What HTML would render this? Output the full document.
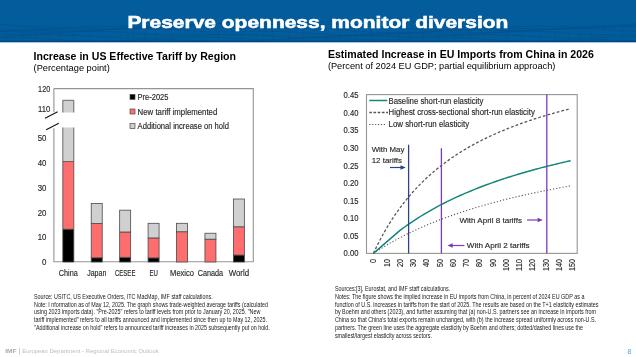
<!DOCTYPE html>
<html><head><meta charset="utf-8">
<style>
html,body{margin:0;padding:0;background:#fff;width:636px;height:357px;overflow:hidden}
svg{display:block;will-change:transform}
text{font-family:"Liberation Sans", sans-serif}
.l{stroke:#333;stroke-width:0.15px}
</style></head><body>
<svg width="636" height="357" viewBox="0 0 636 357">

<rect x="0" y="0" width="636" height="42" fill="#035d9c"/>
<g fill="none" stroke="#024b85" stroke-width="0.6" opacity="0.75">
<path d="M-4,23.6 L2,24.2 L8,24.8 L14,25.4 L20,25.9 L26,26.4 L32,26.7 L38,27.0 L44,27.2 L50,27.3 L56,27.3 L62,27.2 L68,27.1 L74,27.0 L80,26.8 L86,26.6 L92,26.5 L98,26.4 L104,26.3 L110,26.3 L116,26.4 L122,26.5 L128,26.6 L134,26.8 L140,26.9 L146,27.1 L152,27.3 L158,27.4 L164,27.4 L170,27.4 L176,27.2 L182,27.0 L188,26.7 L194,26.3 L200,25.8 L206,25.2 L212,24.6 L218,24.0 L224,23.4 L230,22.8 L236,22.3 L242,21.8 L248,21.5 L254,21.2 L260,21.0 L266,20.8 L272,20.8 L278,20.9 L284,21.0 L290,21.1 L296,21.3 L302,21.4 L308,21.6 L314,21.7 L320,21.7 L326,21.7 L332,21.6 L338,21.5 L344,21.4 L350,21.2 L356,21.0 L362,20.8 L368,20.7 L374,20.5 L380,20.5 L386,20.5 L392,20.6 L398,20.8 L404,21.1 L410,21.5 L416,22.0 L422,22.5 L428,23.1 L434,23.7 L440,24.3 L446,24.9 L452,25.5 L458,25.9 L464,26.3 L470,26.7 L476,26.9 L482,27.0 L488,27.1 L494,27.0 L500,27.0 L506,26.8 L512,26.7 L518,26.5 L524,26.4 L530,26.3 L536,26.3 L542,26.3 L548,26.3 L554,26.5 L560,26.6 L566,26.8 L572,27.0 L578,27.2 L584,27.4 L590,27.5 L596,27.6 L602,27.6 L608,27.5 L614,27.3 L620,27.0 L626,26.7 L632,26.2 L638,25.7 L644,25.1"/>
<path d="M-4,30.1 L2,30.3 L8,30.3 L14,30.3 L20,30.1 L26,29.9 L32,29.7 L38,29.4 L44,29.2 L50,28.9 L56,28.7 L62,28.5 L68,28.4 L74,28.3 L80,28.3 L86,28.3 L92,28.4 L98,28.5 L104,28.7 L110,28.8 L116,28.8 L122,28.9 L128,28.8 L134,28.7 L140,28.5 L146,28.3 L152,27.9 L158,27.5 L164,27.0 L170,26.4 L176,25.9 L182,25.3 L188,24.7 L194,24.3 L200,23.8 L206,23.5 L212,23.2 L218,23.0 L224,23.0 L230,23.0 L236,23.1 L242,23.3 L248,23.5 L254,23.8 L260,24.0 L266,24.3 L272,24.5 L278,24.7 L284,24.8 L290,24.9 L296,24.9 L302,24.8 L308,24.7 L314,24.6 L320,24.5 L326,24.3 L332,24.3 L338,24.2 L344,24.2 L350,24.3 L356,24.5 L362,24.8 L368,25.1 L374,25.5 L380,26.0 L386,26.6 L392,27.1 L398,27.7 L404,28.3 L410,28.8 L416,29.2 L422,29.6 L428,29.9 L434,30.0 L440,30.1 L446,30.1 L452,30.0 L458,29.9 L464,29.7 L470,29.4 L476,29.2 L482,29.0 L488,28.7 L494,28.6 L500,28.5 L506,28.4 L512,28.4 L518,28.4 L524,28.5 L530,28.7 L536,28.8 L542,28.9 L548,29.0 L554,29.1 L560,29.1 L566,29.0 L572,28.9 L578,28.6 L584,28.3 L590,27.9 L596,27.4 L602,26.8 L608,26.3 L614,25.7 L620,25.1 L626,24.6 L632,24.2 L638,23.8 L644,23.5"/>
<path d="M-4,31.8 L2,31.4 L8,31.1 L14,30.7 L20,30.5 L26,30.2 L32,30.1 L38,30.0 L44,30.0 L50,30.0 L56,30.1 L62,30.2 L68,30.3 L74,30.4 L80,30.4 L86,30.4 L92,30.4 L98,30.2 L104,30.0 L110,29.7 L116,29.4 L122,28.9 L128,28.5 L134,28.0 L140,27.5 L146,27.0 L152,26.5 L158,26.2 L164,25.9 L170,25.6 L176,25.5 L182,25.5 L188,25.6 L194,25.7 L200,26.0 L206,26.3 L212,26.6 L218,26.9 L224,27.3 L230,27.6 L236,27.8 L242,28.1 L248,28.2 L254,28.3 L260,28.3 L266,28.3 L272,28.2 L278,28.1 L284,28.0 L290,27.9 L296,27.9 L302,27.9 L308,27.9 L314,28.0 L320,28.2 L326,28.5 L332,28.9 L338,29.3 L344,29.8 L350,30.3 L356,30.8 L362,31.3 L368,31.7 L374,32.1 L380,32.4 L386,32.7 L392,32.8 L398,32.9 L404,32.8 L410,32.7 L416,32.5 L422,32.2 L428,31.9 L434,31.5 L440,31.2 L446,30.9 L452,30.6 L458,30.4 L464,30.3 L470,30.2 L476,30.1 L482,30.2 L488,30.2 L494,30.3 L500,30.5 L506,30.6 L512,30.6 L518,30.7 L524,30.6 L530,30.5 L536,30.3 L542,30.0 L548,29.7 L554,29.3 L560,28.8 L566,28.3 L572,27.8 L578,27.3 L584,26.8 L590,26.4 L596,26.1 L602,25.8 L608,25.6 L614,25.6 L620,25.6 L626,25.7 L632,25.9 L638,26.2 L644,26.5"/>
<path d="M-4,31.7 L2,31.7 L8,31.6 L14,31.7 L20,31.8 L26,31.9 L32,32.0 L38,32.1 L44,32.2 L50,32.2 L56,32.1 L62,32.0 L68,31.8 L74,31.5 L80,31.2 L86,30.8 L92,30.4 L98,30.0 L104,29.6 L110,29.2 L116,28.9 L122,28.6 L128,28.4 L134,28.3 L140,28.3 L146,28.4 L152,28.6 L158,28.9 L164,29.2 L170,29.6 L176,30.0 L182,30.4 L188,30.8 L194,31.1 L200,31.4 L206,31.6 L212,31.8 L218,31.8 L224,31.9 L230,31.8 L236,31.7 L242,31.6 L248,31.5 L254,31.4 L260,31.3 L266,31.3 L272,31.4 L278,31.5 L284,31.7 L290,31.9 L296,32.3 L302,32.6 L308,33.1 L314,33.5 L320,33.9 L326,34.3 L332,34.7 L338,35.0 L344,35.2 L350,35.3 L356,35.3 L362,35.2 L368,35.0 L374,34.8 L380,34.4 L386,34.1 L392,33.7 L398,33.3 L404,32.9 L410,32.6 L416,32.3 L422,32.1 L428,31.9 L434,31.9 L440,31.8 L446,31.9 L452,32.0 L458,32.1 L464,32.2 L470,32.3 L476,32.4 L482,32.4 L488,32.4 L494,32.2 L500,32.1 L506,31.8 L512,31.5 L518,31.1 L524,30.7 L530,30.2 L536,29.8 L542,29.4 L548,29.0 L554,28.7 L560,28.5 L566,28.4 L572,28.3 L578,28.4 L584,28.5 L590,28.8 L596,29.1 L602,29.4 L608,29.8 L614,30.2 L620,30.6 L626,30.9 L632,31.2 L638,31.4 L644,31.6"/>
<path d="M-4,34.1 L2,34.2 L8,34.3 L14,34.3 L20,34.3 L26,34.2 L32,34.0 L38,33.8 L44,33.5 L50,33.2 L56,32.8 L62,32.5 L68,32.1 L74,31.8 L80,31.6 L86,31.4 L92,31.4 L98,31.4 L104,31.5 L110,31.7 L116,32.0 L122,32.3 L128,32.7 L134,33.2 L140,33.6 L146,34.0 L152,34.4 L158,34.7 L164,34.9 L170,35.1 L176,35.2 L182,35.2 L188,35.2 L194,35.1 L200,35.0 L206,34.8 L212,34.7 L218,34.5 L224,34.5 L230,34.4 L236,34.4 L242,34.5 L248,34.7 L254,34.9 L260,35.2 L266,35.5 L272,35.9 L278,36.3 L284,36.6 L290,36.9 L296,37.2 L302,37.4 L308,37.4 L314,37.4 L320,37.4 L326,37.2 L332,36.9 L338,36.6 L344,36.2 L350,35.8 L356,35.3 L362,34.9 L368,34.6 L374,34.2 L380,34.0 L386,33.8 L392,33.7 L398,33.6 L404,33.7 L410,33.8 L416,33.9 L422,34.0 L428,34.2 L434,34.3 L440,34.4 L446,34.5 L452,34.4 L458,34.3 L464,34.2 L470,34.0 L476,33.7 L482,33.3 L488,33.0 L494,32.6 L500,32.2 L506,31.9 L512,31.7 L518,31.5 L524,31.3 L530,31.3 L536,31.4 L542,31.6 L548,31.8 L554,32.1 L560,32.5 L566,32.9 L572,33.3 L578,33.8 L584,34.1 L590,34.5 L596,34.7 L602,34.9 L608,35.0 L614,35.1 L620,35.1 L626,35.0 L632,34.8 L638,34.7 L644,34.6"/>
<path d="M-4,36.6 L2,36.4 L8,36.2 L14,35.9 L20,35.6 L26,35.3 L32,35.0 L38,34.8 L44,34.6 L50,34.5 L56,34.6 L62,34.7 L68,34.8 L74,35.1 L80,35.4 L86,35.8 L92,36.2 L98,36.7 L104,37.1 L110,37.5 L116,37.8 L122,38.1 L128,38.3 L134,38.4 L140,38.4 L146,38.4 L152,38.2 L158,38.1 L164,37.9 L170,37.7 L176,37.5 L182,37.3 L188,37.2 L194,37.1 L200,37.1 L206,37.2 L212,37.3 L218,37.5 L224,37.8 L230,38.1 L236,38.4 L242,38.7 L248,39.0 L254,39.2 L260,39.4 L266,39.5 L272,39.5 L278,39.4 L284,39.2 L290,39.0 L296,38.7 L302,38.3 L308,37.9 L314,37.4 L320,37.0 L326,36.6 L332,36.3 L338,36.0 L344,35.8 L350,35.7 L356,35.7 L362,35.7 L368,35.8 L374,36.0 L380,36.1 L386,36.3 L392,36.5 L398,36.7 L404,36.8 L410,36.9 L416,36.9 L422,36.8 L428,36.7 L434,36.5 L440,36.3 L446,36.0 L452,35.6 L458,35.3 L464,35.0 L470,34.8 L476,34.6 L482,34.5 L488,34.5 L494,34.5 L500,34.7 L506,34.9 L512,35.2 L518,35.6 L524,36.0 L530,36.4 L536,36.9 L542,37.2 L548,37.6 L554,37.9 L560,38.1 L566,38.2 L572,38.3 L578,38.2 L584,38.2 L590,38.0 L596,37.8 L602,37.6 L608,37.4 L614,37.3 L620,37.1 L626,37.1 L632,37.0 L638,37.1 L644,37.2"/>
<path d="M-4,38.0 L2,37.9 L8,37.8 L14,37.7 L20,37.8 L26,37.9 L32,38.2 L38,38.4 L44,38.8 L50,39.2 L56,39.6 L62,40.0 L68,40.4 L74,40.7 L80,41.0 L86,41.1 L92,41.3 L98,41.3 L104,41.2 L110,41.1 L116,40.9 L122,40.7 L128,40.4 L134,40.2 L140,39.9 L146,39.7 L152,39.6 L158,39.5 L164,39.5 L170,39.6 L176,39.7 L182,39.9 L188,40.1 L194,40.4 L200,40.7 L206,40.9 L212,41.2 L218,41.4 L224,41.5 L230,41.5 L236,41.5 L242,41.3 L248,41.1 L254,40.8 L260,40.5 L266,40.1 L272,39.7 L278,39.3 L284,38.9 L290,38.6 L296,38.3 L302,38.1 L308,38.0 L314,38.0 L320,38.0 L326,38.1 L332,38.3 L338,38.5 L344,38.8 L350,39.0 L356,39.3 L362,39.5 L368,39.6 L374,39.7 L380,39.7 L386,39.7 L392,39.5 L398,39.3 L404,39.1 L410,38.8 L416,38.6 L422,38.3 L428,38.0 L434,37.8 L440,37.7 L446,37.7 L452,37.7 L458,37.8 L464,38.0 L470,38.3 L476,38.6 L482,39.0 L488,39.4 L494,39.8 L500,40.2 L506,40.5 L512,40.8 L518,41.0 L524,41.1 L530,41.2 L536,41.2 L542,41.1 L548,40.9 L554,40.7 L560,40.4 L566,40.2 L572,39.9 L578,39.7 L584,39.6 L590,39.5 L596,39.5 L602,39.5 L608,39.6 L614,39.8 L620,40.1 L626,40.3 L632,40.6 L638,40.9 L644,41.2"/>
<path d="M5.0 30.2 Q8.0 36.1 6.0 41" opacity="0.6"/>
<path d="M21.5 31.1 Q24.5 36.5 22.5 41" opacity="0.6"/>
<path d="M35.7 31.7 Q38.7 36.8 36.7 41" opacity="0.6"/>
<path d="M47.4 32.1 Q50.4 37.1 48.4 41" opacity="0.6"/>
<path d="M58.7 32.5 Q61.7 37.2 59.7 41" opacity="0.6"/>
<path d="M72.1 32.8 Q75.1 37.4 73.1 41" opacity="0.6"/>
<path d="M88.2 33.0 Q91.2 37.5 89.2 41" opacity="0.6"/>
<path d="M105.0 33.0 Q108.0 37.5 106.0 41" opacity="0.6"/>
<path d="M120.0 32.7 Q123.0 37.4 121.0 41" opacity="0.6"/>
<path d="M132.2 32.4 Q135.2 37.2 133.2 41" opacity="0.6"/>
<path d="M143.4 32.0 Q146.4 37.0 144.4 41" opacity="0.6"/>
<path d="M156.0 31.5 Q159.0 36.8 157.0 41" opacity="0.6"/>
<path d="M171.4 30.8 Q174.4 36.4 172.4 41" opacity="0.6"/>
<path d="M188.3 30.0 Q191.3 36.0 189.3 41" opacity="0.6"/>
<path d="M204.0 29.2 Q207.0 35.6 205.0 41" opacity="0.6"/>
<path d="M217.0 28.6 Q220.0 35.3 218.0 41" opacity="0.6"/>
<path d="M228.1 28.2 Q231.1 35.1 229.1 41" opacity="0.6"/>
<path d="M240.1 27.7 Q243.1 34.9 241.1 41" opacity="0.6"/>
<path d="M254.7 27.3 Q257.7 34.7 255.7 41" opacity="0.6"/>
<path d="M271.4 27.1 Q274.4 34.5 272.4 41" opacity="0.6"/>
<path d="M287.7 27.0 Q290.7 34.5 288.7 41" opacity="0.6"/>
<path d="M301.5 27.1 Q304.5 34.6 302.5 41" opacity="0.6"/>
<path d="M313.0 27.4 Q316.0 34.7 314.0 41" opacity="0.6"/>
<path d="M324.5 27.7 Q327.5 34.8 325.5 41" opacity="0.6"/>
<path d="M338.3 28.2 Q341.3 35.1 339.3 41" opacity="0.6"/>
<path d="M354.6 28.9 Q357.6 35.5 355.6 41" opacity="0.6"/>
<path d="M371.3 29.7 Q374.3 35.9 372.3 41" opacity="0.6"/>
<path d="M385.9 30.4 Q388.9 36.2 386.9 41" opacity="0.6"/>
<path d="M397.8 31.0 Q400.8 36.5 398.8 41" opacity="0.6"/>
<path d="M409.0 31.5 Q412.0 36.8 410.0 41" opacity="0.6"/>
<path d="M422.0 32.0 Q425.0 37.0 423.0 41" opacity="0.6"/>
<path d="M437.8 32.5 Q440.8 37.3 438.8 41" opacity="0.6"/>
<path d="M454.7 32.9 Q457.7 37.4 455.7 41" opacity="0.6"/>
<path d="M470.0 33.0 Q473.0 37.5 471.0 41" opacity="0.6"/>
<path d="M482.6 32.9 Q485.6 37.5 483.6 41" opacity="0.6"/>
<path d="M493.7 32.8 Q496.7 37.4 494.7 41" opacity="0.6"/>
<path d="M506.0 32.5 Q509.0 37.3 507.0 41" opacity="0.6"/>
<path d="M521.1 32.0 Q524.1 37.0 522.1 41" opacity="0.6"/>
<path d="M537.9 31.3 Q540.9 36.7 538.9 41" opacity="0.6"/>
<path d="M553.9 30.6 Q556.9 36.3 554.9 41" opacity="0.6"/>
<path d="M567.2 29.9 Q570.2 36.0 568.2 41" opacity="0.6"/>
<path d="M578.5 29.4 Q581.5 35.7 579.5 41" opacity="0.6"/>
<path d="M590.3 28.8 Q593.3 35.4 591.3 41" opacity="0.6"/>
<path d="M604.5 28.2 Q607.5 35.1 605.5 41" opacity="0.6"/>
<path d="M621.1 27.6 Q624.1 34.8 622.1 41" opacity="0.6"/>
<path d="M637.6 27.2 Q640.6 34.6 638.6 41" opacity="0.6"/>
</g>
<rect x="0" y="40.6" width="636" height="1.4" fill="#034a84"/>
<rect x="0" y="42" width="636" height="1" fill="#9ec3e3"/>
<text x="127.4" y="28.1" font-size="17.4" font-weight="bold" fill="#fff" stroke="#fff" stroke-width="0.55" textLength="381"  lengthAdjust="spacingAndGlyphs">Preserve openness, monitor diversion</text>
<text x="33.6" y="60.2" font-size="10.2" font-weight="bold" fill="#000" textLength="202.4" lengthAdjust="spacingAndGlyphs">Increase in US Effective Tariff by Region</text>
<text x="33.6" y="70.9" font-size="9.1" fill="#000" textLength="76.2" lengthAdjust="spacingAndGlyphs">(Percentage point)</text>
<path d="M53.9 88.6 H253.3 V261.8 H53.9 V128.2 M53.9 112.2 V88.6" fill="none" stroke="#959595" stroke-width="1.1"/>
<text x="42.0" y="265.1" font-size="8.5" fill="#222" class="l" textLength="4.4" lengthAdjust="spacingAndGlyphs">0</text>
<text x="37.7" y="240.2" font-size="8.5" fill="#222" class="l" textLength="8.7" lengthAdjust="spacingAndGlyphs">10</text>
<text x="37.7" y="215.5" font-size="8.5" fill="#222" class="l" textLength="8.7" lengthAdjust="spacingAndGlyphs">20</text>
<text x="37.7" y="190.7" font-size="8.5" fill="#222" class="l" textLength="8.7" lengthAdjust="spacingAndGlyphs">30</text>
<text x="37.7" y="165.9" font-size="8.5" fill="#222" class="l" textLength="8.7" lengthAdjust="spacingAndGlyphs">40</text>
<text x="37.7" y="141.1" font-size="8.5" fill="#222" class="l" textLength="8.7" lengthAdjust="spacingAndGlyphs">50</text>
<text x="38.1" y="111.6" font-size="8.5" fill="#222" class="l" textLength="12.1" lengthAdjust="spacingAndGlyphs">110</text>
<text x="38.1" y="91.5" font-size="8.5" fill="#222" class="l" textLength="12.1" lengthAdjust="spacingAndGlyphs">120</text>
<path d="M45 118.2 L57.7 111.8 M46.2 129.7 L58.8 123.3" stroke="#111" stroke-width="1.1"/>
<rect x="62.80" y="138.00" width="11.0" height="23.56" fill="#d0d0d0"/>
<rect x="62.80" y="161.56" width="11.0" height="67.70" fill="#ff6e6e"/>
<rect x="62.80" y="229.26" width="11.0" height="32.74" fill="#000000"/>
<rect x="62.80" y="127.5" width="11.0" height="11.00" fill="#d0d0d0"/>
<path d="M62.80 127.5 V262 H73.80 V127.5 M62.80 161.56 H73.80 M62.80 229.26 H73.80" stroke="#4a4a4a" stroke-width="0.8" fill="none"/>
<rect x="62.80" y="100.3" width="11.0" height="12.2" fill="#d0d0d0"/>
<path d="M62.80 112.5 V100.3 H73.80 V112.5" stroke="#4a4a4a" stroke-width="0.8" fill="none"/>
<text x="58.8" y="276" font-size="8.5" fill="#222" class="l" textLength="19" lengthAdjust="spacingAndGlyphs">China</text>
<rect x="91.23" y="257.78" width="11.0" height="4.22" fill="#000000" stroke="#4a4a4a" stroke-width="0.8"/>
<rect x="91.23" y="223.56" width="11.0" height="34.22" fill="#ff6e6e" stroke="#4a4a4a" stroke-width="0.8"/>
<rect x="91.23" y="203.47" width="11.0" height="20.09" fill="#d0d0d0" stroke="#4a4a4a" stroke-width="0.8"/>
<text x="87.2" y="276" font-size="8.5" fill="#222" class="l" textLength="19.1" lengthAdjust="spacingAndGlyphs">Japan</text>
<rect x="119.66" y="257.29" width="11.0" height="4.71" fill="#000000" stroke="#4a4a4a" stroke-width="0.8"/>
<rect x="119.66" y="231.99" width="11.0" height="25.30" fill="#ff6e6e" stroke="#4a4a4a" stroke-width="0.8"/>
<rect x="119.66" y="210.17" width="11.0" height="21.82" fill="#d0d0d0" stroke="#4a4a4a" stroke-width="0.8"/>
<text x="115.0" y="276" font-size="8.5" fill="#222" class="l" textLength="20.4" lengthAdjust="spacingAndGlyphs">CESEE</text>
<rect x="148.09" y="257.91" width="11.0" height="4.09" fill="#000000" stroke="#4a4a4a" stroke-width="0.8"/>
<rect x="148.09" y="237.94" width="11.0" height="19.96" fill="#ff6e6e" stroke="#4a4a4a" stroke-width="0.8"/>
<rect x="148.09" y="223.31" width="11.0" height="14.63" fill="#d0d0d0" stroke="#4a4a4a" stroke-width="0.8"/>
<text x="149.4" y="276" font-size="8.5" fill="#222" class="l" textLength="8.4" lengthAdjust="spacingAndGlyphs">EU</text>
<rect x="176.52" y="231.74" width="11.0" height="30.26" fill="#ff6e6e" stroke="#4a4a4a" stroke-width="0.8"/>
<rect x="176.52" y="223.31" width="11.0" height="8.43" fill="#d0d0d0" stroke="#4a4a4a" stroke-width="0.8"/>
<text x="170.1" y="276" font-size="8.5" fill="#222" class="l" textLength="23.9" lengthAdjust="spacingAndGlyphs">Mexico</text>
<rect x="204.95" y="239.18" width="11.0" height="22.82" fill="#ff6e6e" stroke="#4a4a4a" stroke-width="0.8"/>
<rect x="204.95" y="233.23" width="11.0" height="5.95" fill="#d0d0d0" stroke="#4a4a4a" stroke-width="0.8"/>
<text x="197.8" y="276" font-size="8.5" fill="#222" class="l" textLength="25.3" lengthAdjust="spacingAndGlyphs">Canada</text>
<rect x="233.38" y="255.06" width="11.0" height="6.94" fill="#000000" stroke="#4a4a4a" stroke-width="0.8"/>
<rect x="233.38" y="226.78" width="11.0" height="28.27" fill="#ff6e6e" stroke="#4a4a4a" stroke-width="0.8"/>
<rect x="233.38" y="199.01" width="11.0" height="27.78" fill="#d0d0d0" stroke="#4a4a4a" stroke-width="0.8"/>
<text x="228.7" y="276" font-size="8.5" fill="#222" class="l" textLength="20.4" lengthAdjust="spacingAndGlyphs">World</text>
<rect x="130" y="94.4" width="5" height="5" fill="#000000" stroke="#4a4a4a" stroke-width="0.7"/>
<text x="137.6" y="99.9" font-size="8.5" fill="#222" class="l" textLength="30.8" lengthAdjust="spacingAndGlyphs">Pre-2025</text>
<rect x="130" y="109.0" width="5" height="5" fill="#ff6e6e" stroke="#4a4a4a" stroke-width="0.7"/>
<text x="137.6" y="114.5" font-size="8.5" fill="#222" class="l" textLength="79.7" lengthAdjust="spacingAndGlyphs">New tariff implemented</text>
<rect x="130" y="123.6" width="5" height="5" fill="#d0d0d0" stroke="#4a4a4a" stroke-width="0.7"/>
<text x="137.6" y="129.1" font-size="8.5" fill="#222" class="l" textLength="91.4" lengthAdjust="spacingAndGlyphs">Additional increase on hold</text>
<text x="327.9" y="57.6" font-size="10.1" font-weight="bold" fill="#000" textLength="266" lengthAdjust="spacingAndGlyphs">Estimated Increase in EU Imports from China in 2026</text>
<text x="327.9" y="68.8" font-size="9.1" fill="#000" textLength="227.5" lengthAdjust="spacingAndGlyphs">(Percent of 2024 EU GDP; partial equilibrium approach)</text>
<rect x="366.5" y="94.6" width="210.7" height="158.8" fill="none" stroke="#959595" stroke-width="1.1"/>
<text x="343.6" y="256.4" font-size="8.5" fill="#222" class="l" textLength="14.9" lengthAdjust="spacingAndGlyphs">0.00</text>
<text x="343.6" y="238.9" font-size="8.5" fill="#222" class="l" textLength="14.9" lengthAdjust="spacingAndGlyphs">0.05</text>
<text x="343.6" y="221.2" font-size="8.5" fill="#222" class="l" textLength="14.9" lengthAdjust="spacingAndGlyphs">0.10</text>
<text x="343.6" y="203.7" font-size="8.5" fill="#222" class="l" textLength="14.9" lengthAdjust="spacingAndGlyphs">0.15</text>
<text x="343.6" y="186.1" font-size="8.5" fill="#222" class="l" textLength="14.9" lengthAdjust="spacingAndGlyphs">0.20</text>
<text x="343.6" y="168.5" font-size="8.5" fill="#222" class="l" textLength="14.9" lengthAdjust="spacingAndGlyphs">0.25</text>
<text x="343.6" y="150.8" font-size="8.5" fill="#222" class="l" textLength="14.9" lengthAdjust="spacingAndGlyphs">0.30</text>
<text x="343.6" y="133.2" font-size="8.5" fill="#222" class="l" textLength="14.9" lengthAdjust="spacingAndGlyphs">0.35</text>
<text x="343.6" y="115.6" font-size="8.5" fill="#222" class="l" textLength="14.9" lengthAdjust="spacingAndGlyphs">0.40</text>
<text x="343.6" y="98.0" font-size="8.5" fill="#222" class="l" textLength="14.9" lengthAdjust="spacingAndGlyphs">0.45</text>
<text transform="translate(376.4,263.0) rotate(-90)" font-size="8.5" fill="#222" class="l" textLength="4.1" lengthAdjust="spacingAndGlyphs">0</text>
<text transform="translate(389.7,267.0) rotate(-90)" font-size="8.5" fill="#222" class="l" textLength="8.1" lengthAdjust="spacingAndGlyphs">10</text>
<text transform="translate(402.9,267.0) rotate(-90)" font-size="8.5" fill="#222" class="l" textLength="8.1" lengthAdjust="spacingAndGlyphs">20</text>
<text transform="translate(416.2,267.0) rotate(-90)" font-size="8.5" fill="#222" class="l" textLength="8.1" lengthAdjust="spacingAndGlyphs">30</text>
<text transform="translate(429.4,267.0) rotate(-90)" font-size="8.5" fill="#222" class="l" textLength="8.1" lengthAdjust="spacingAndGlyphs">40</text>
<text transform="translate(442.7,267.0) rotate(-90)" font-size="8.5" fill="#222" class="l" textLength="8.1" lengthAdjust="spacingAndGlyphs">50</text>
<text transform="translate(455.9,267.0) rotate(-90)" font-size="8.5" fill="#222" class="l" textLength="8.1" lengthAdjust="spacingAndGlyphs">60</text>
<text transform="translate(469.2,267.0) rotate(-90)" font-size="8.5" fill="#222" class="l" textLength="8.1" lengthAdjust="spacingAndGlyphs">70</text>
<text transform="translate(482.4,267.0) rotate(-90)" font-size="8.5" fill="#222" class="l" textLength="8.1" lengthAdjust="spacingAndGlyphs">80</text>
<text transform="translate(495.7,267.0) rotate(-90)" font-size="8.5" fill="#222" class="l" textLength="8.1" lengthAdjust="spacingAndGlyphs">90</text>
<text transform="translate(508.9,271.0) rotate(-90)" font-size="8.5" fill="#222" class="l" textLength="12.1" lengthAdjust="spacingAndGlyphs">100</text>
<text transform="translate(522.2,271.0) rotate(-90)" font-size="8.5" fill="#222" class="l" textLength="12.1" lengthAdjust="spacingAndGlyphs">110</text>
<text transform="translate(535.4,271.0) rotate(-90)" font-size="8.5" fill="#222" class="l" textLength="12.1" lengthAdjust="spacingAndGlyphs">120</text>
<text transform="translate(548.7,271.0) rotate(-90)" font-size="8.5" fill="#222" class="l" textLength="12.1" lengthAdjust="spacingAndGlyphs">130</text>
<text transform="translate(561.9,271.0) rotate(-90)" font-size="8.5" fill="#222" class="l" textLength="12.1" lengthAdjust="spacingAndGlyphs">140</text>
<text transform="translate(575.2,271.0) rotate(-90)" font-size="8.5" fill="#222" class="l" textLength="12.1" lengthAdjust="spacingAndGlyphs">150</text>
<path d="M373.40,253.40 L376.03,247.86 L378.66,242.60 L381.29,237.59 L383.92,232.81 L386.55,228.25 L389.18,223.90 L391.81,219.74 L394.44,215.76 L397.08,211.94 L399.71,208.29 L402.34,204.78 L404.97,201.40 L407.60,198.16 L410.23,195.05 L412.86,192.05 L415.49,189.16 L418.12,186.37 L420.75,183.68 L423.38,181.09 L426.01,178.58 L428.64,176.16 L431.27,173.82 L433.90,171.55 L436.53,169.36 L439.16,167.23 L441.80,165.17 L444.43,163.18 L447.06,161.24 L449.69,159.36 L452.32,157.54 L454.95,155.77 L457.58,154.05 L460.21,152.37 L462.84,150.75 L465.47,149.16 L468.10,147.62 L470.73,146.12 L473.36,144.66 L475.99,143.24 L478.62,141.85 L481.25,140.50 L483.89,139.18 L486.52,137.90 L489.15,136.64 L491.78,135.42 L494.41,134.22 L497.04,133.06 L499.67,131.92 L502.30,130.80 L504.93,129.71 L507.56,128.65 L510.19,127.60 L512.82,126.59 L515.45,125.59 L518.08,124.61 L520.71,123.66 L523.34,122.72 L525.97,121.81 L528.61,120.91 L531.24,120.03 L533.87,119.17 L536.50,118.33 L539.13,117.50 L541.76,116.69 L544.39,115.89 L547.02,115.11 L549.65,114.35 L552.28,113.60 L554.91,112.86 L557.54,112.14 L560.17,111.43 L562.80,110.73 L565.43,110.04 L568.06,109.37 L570.69,108.71" fill="none" stroke="#595959" stroke-width="1.3" stroke-dasharray="2.8 2"/>
<path d="M373.40,253.40 L376.03,251.67 L378.66,249.99 L381.29,248.34 L383.92,246.74 L386.55,245.17 L389.18,243.64 L391.81,242.14 L394.44,240.68 L397.08,239.25 L399.71,237.86 L402.34,236.49 L404.97,235.15 L407.60,233.85 L410.23,232.57 L412.86,231.32 L415.49,230.09 L418.12,228.89 L420.75,227.71 L423.38,226.56 L426.01,225.43 L428.64,224.32 L431.27,223.24 L433.90,222.18 L436.53,221.13 L439.16,220.11 L441.80,219.11 L444.43,218.12 L447.06,217.15 L449.69,216.20 L452.32,215.27 L454.95,214.36 L457.58,213.46 L460.21,212.58 L462.84,211.71 L465.47,210.86 L468.10,210.02 L470.73,209.20 L473.36,208.39 L475.99,207.59 L478.62,206.81 L481.25,206.04 L483.89,205.28 L486.52,204.54 L489.15,203.81 L491.78,203.09 L494.41,202.38 L497.04,201.68 L499.67,201.00 L502.30,200.32 L504.93,199.65 L507.56,199.00 L510.19,198.35 L512.82,197.72 L515.45,197.09 L518.08,196.47 L520.71,195.87 L523.34,195.27 L525.97,194.68 L528.61,194.10 L531.24,193.52 L533.87,192.96 L536.50,192.40 L539.13,191.85 L541.76,191.31 L544.39,190.77 L547.02,190.25 L549.65,189.73 L552.28,189.21 L554.91,188.71 L557.54,188.21 L560.17,187.72 L562.80,187.23 L565.43,186.75 L568.06,186.28 L570.69,185.81" fill="none" stroke="#595959" stroke-width="1.1" stroke-dasharray="1.2 2"/>
<path d="M373.40,253.40 L399.71,230.61 L402.34,228.65 L404.97,226.75 L407.60,224.89 L410.23,223.07 L412.86,221.30 L415.49,219.57 L418.12,217.89 L420.75,216.24 L423.38,214.63 L426.01,213.06 L428.64,211.52 L431.27,210.02 L433.90,208.55 L436.53,207.12 L439.16,205.71 L441.80,204.34 L444.43,203.00 L447.06,201.68 L449.69,200.39 L452.32,199.13 L454.95,197.89 L457.58,196.68 L460.21,195.49 L462.84,194.33 L465.47,193.18 L468.10,192.06 L470.73,190.97 L473.36,189.89 L475.99,188.83 L478.62,187.80 L481.25,186.78 L483.89,185.78 L486.52,184.80 L489.15,183.84 L491.78,182.89 L494.41,181.96 L497.04,181.05 L499.67,180.15 L502.30,179.27 L504.93,178.40 L507.56,177.55 L510.19,176.71 L512.82,175.89 L515.45,175.08 L518.08,174.28 L520.71,173.50 L523.34,172.73 L525.97,171.97 L528.61,171.22 L531.24,170.49 L533.87,169.77 L536.50,169.05 L539.13,168.35 L541.76,167.66 L544.39,166.98 L547.02,166.31 L549.65,165.65 L552.28,165.00 L554.91,164.36 L557.54,163.73 L560.17,163.11 L562.80,162.49 L565.43,161.89 L568.06,161.29 L570.69,160.71" fill="none" stroke="#13857a" stroke-width="1.45" stroke-linejoin="round"/>
<path d="M408.6 144.7 V253.4" stroke="#2a4585" stroke-width="1.3"/>
<path d="M441.4 148.2 V253.4" stroke="#7a3bb8" stroke-width="1.3"/>
<path d="M546.8 94.6 V253.4" stroke="#7a3bb8" stroke-width="1.3"/>
<path d="M369.3 100.5 H387.3" stroke="#13857a" stroke-width="1.5"/>
<path d="M369.3 112.5 H388" stroke="#555" stroke-width="1.3" stroke-dasharray="2.6 1.6"/>
<path d="M369.3 124.5 H386.3" stroke="#555" stroke-width="1.2" stroke-dasharray="1.2 1.7"/>
<text x="388.5" y="104" font-size="8.5" fill="#222" class="l" textLength="94.8" lengthAdjust="spacingAndGlyphs">Baseline short-run elasticity</text>
<text x="388.5" y="115.4" font-size="8.5" fill="#222" class="l" textLength="146.3" lengthAdjust="spacingAndGlyphs">Highest cross-sectional short-run elasticity</text>
<text x="388.5" y="127" font-size="8.5" fill="#222" class="l" textLength="80.7" lengthAdjust="spacingAndGlyphs">Low short-run elasticity</text>
<text x="371.7" y="152.3" font-size="8.1" fill="#222" class="l" textLength="32.7" lengthAdjust="spacingAndGlyphs">With May</text>
<text x="371.7" y="163.2" font-size="8.1" fill="#222" class="l" textLength="30.3" lengthAdjust="spacingAndGlyphs">12 tariffs</text>
<path d="M390 167.5 H402" stroke="#2a4585" stroke-width="1.2"/><path d="M405.7 167.5 L400.5 165.2 L400.5 169.8 Z" fill="#2a4585"/>
<text x="459.4" y="223" font-size="8.1" fill="#222" class="l" textLength="62.6" lengthAdjust="spacingAndGlyphs">With April 8 tariffs</text>
<path d="M527 220 H539" stroke="#7a3bb8" stroke-width="1.2"/><path d="M542.8 220 L537.6 217.7 L537.6 222.3 Z" fill="#7a3bb8"/>
<text x="466.8" y="248.1" font-size="8.1" fill="#222" class="l" textLength="62.8" lengthAdjust="spacingAndGlyphs">With April 2 tariffs</text>
<path d="M451 245.5 H464.5" stroke="#7a3bb8" stroke-width="1.2"/><path d="M447.5 245.5 L452.7 243.2 L452.7 247.8 Z" fill="#7a3bb8"/>
<text x="34" y="298.9" font-size="6.6" fill="#1a1a1a" textLength="178.7" lengthAdjust="spacingAndGlyphs">Source: USITC, US Executive Orders, ITC MacMap, IMF staff calculations.</text>
<text x="34" y="306.6" font-size="6.6" fill="#1a1a1a" textLength="234.0" lengthAdjust="spacingAndGlyphs">Note: I nformation as of May 12, 2025. The graph shows trade-weighted average tariffs (calculated</text>
<text x="34" y="314.3" font-size="6.6" fill="#1a1a1a" textLength="226.4" lengthAdjust="spacingAndGlyphs">using 2023 imports data). &quot;Pre-2025&quot; refers to tariff levels from prior to January 20, 2025. &quot;New</text>
<text x="34" y="322.0" font-size="6.6" fill="#1a1a1a" textLength="233.0" lengthAdjust="spacingAndGlyphs">tariff implemented&quot; refers to all tariffs announced and implemented since then up to May 12, 2025.</text>
<text x="34" y="329.7" font-size="6.6" fill="#1a1a1a" textLength="235.8" lengthAdjust="spacingAndGlyphs">&quot;Additional increase on hold&quot; refers to announced tariff increases in 2025 subsequently put on hold.</text>
<text x="334.9" y="290.7" font-size="6.6" fill="#1a1a1a" textLength="115.4" lengthAdjust="spacingAndGlyphs">Sources:[3], Eurostat, and IMF staff calculations.</text>
<text x="334.9" y="298.6" font-size="6.6" fill="#1a1a1a" textLength="249.5" lengthAdjust="spacingAndGlyphs">Notes: The figure shows the implied increase in EU imports from China, in percent of 2024 EU GDP as a</text>
<text x="334.9" y="306.5" font-size="6.6" fill="#1a1a1a" textLength="263.6" lengthAdjust="spacingAndGlyphs">function of U.S. increases in tariffs from the start of 2025. The results are based on the T+1 elasticity estimates</text>
<text x="334.9" y="314.3" font-size="6.6" fill="#1a1a1a" textLength="261.1" lengthAdjust="spacingAndGlyphs">by Boehm and others (2023), and further assuming that (a) non-U.S. partners see an increase in imports from</text>
<text x="334.9" y="322.2" font-size="6.6" fill="#1a1a1a" textLength="261.1" lengthAdjust="spacingAndGlyphs">China so that China's total exports remain unchanged, with (b) the increase spread uniformly across non-U.S.</text>
<text x="334.9" y="330.1" font-size="6.6" fill="#1a1a1a" textLength="248.1" lengthAdjust="spacingAndGlyphs">partners. The green line uses the aggregate elasticity by Boehm and others; dotted/dashed lines use the</text>
<text x="334.9" y="338.0" font-size="6.6" fill="#1a1a1a" textLength="97.1" lengthAdjust="spacingAndGlyphs">smallest/largest elasticity across sectors.</text>
<text x="5.2" y="353.3" font-size="6.2" font-weight="bold" fill="#a9a9a9" textLength="11.3" lengthAdjust="spacingAndGlyphs">IMF</text>
<rect x="19" y="348" width="0.7" height="6.5" fill="#b5b5b5"/>
<text x="22.2" y="353.3" font-size="6.2" fill="#bdbdbd" textLength="136.6" lengthAdjust="spacingAndGlyphs">European Department - Regional Economic Outlook</text>
<text x="629.5" y="354" font-size="7" fill="#4da6e0" text-anchor="middle">8</text>
</svg></body></html>
